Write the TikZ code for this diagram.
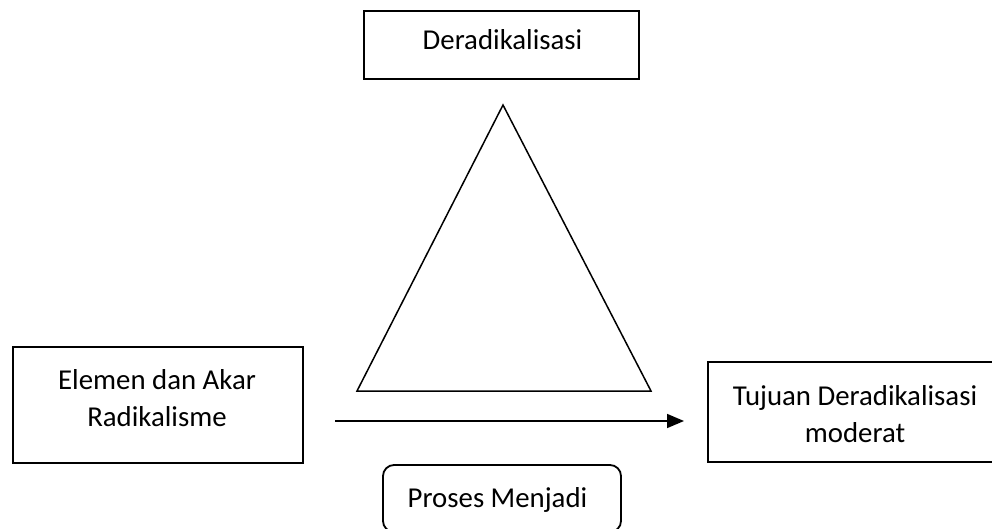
\documentclass[tikz,border=0pt]{standalone}
\usepackage{fontspec}
\setmainfont{Carlito}
\usetikzlibrary{arrows.meta}
\begin{document}
\begin{tikzpicture}[x=1pt,y=-1pt,
  box/.style={draw=black, line width=1.8pt, rectangle, inner sep=0pt},
  rbox/.style={box, rounded corners=11pt},
  txt/.style={anchor=base, inner sep=0pt, font=\fontsize{28.8}{37}\selectfont},
  conn/.style={line width=1.6pt, -{Triangle[length=17pt,width=14pt]}},
  tri/.style={line width=1.5pt, line join=miter}
]
\useasboundingbox (0,0) rectangle (992,529);
\clip (0,0) rectangle (992,529);
% top box
\node[box, minimum width=275pt, minimum height=68pt] (top) at (501.5,45) {};
\node[txt] (toptxt) at (502.5,50) {Deradikalisasi};
% triangle
\coordinate (apex) at (503,105);
\coordinate (bl) at (357,391);
\coordinate (br) at (651,391);
\draw[tri] (apex) -- (br) -- (bl) -- cycle;
% left box
\node[box, minimum width=290pt, minimum height=116pt] (left) at (158,405) {};
\node[txt] (lefttxt1) at (157,389) {Elemen dan Akar};
\node[txt] (lefttxt2) at (157,426) {Radikalisme};
% right box (clipped at right edge)
\node[box, minimum width=294pt, minimum height=100pt] (right) at (855,412) {};
\node[txt] (righttxt1) at (855,405) {Tujuan Deradikalisasi};
\node[txt] (righttxt2) at (855,442) {moderat};
% arrow
\coordinate (as) at (335,421);
\coordinate (ae) at (684,421);
\draw[conn] (as) -- (ae);
% process box (clipped at bottom)
\node[rbox, minimum width=238pt, minimum height=67pt] (proc) at (502,498.5) {};
\node[txt] (proctxt) at (497.5,507) {Proses Menjadi};
\end{tikzpicture}
\end{document}
